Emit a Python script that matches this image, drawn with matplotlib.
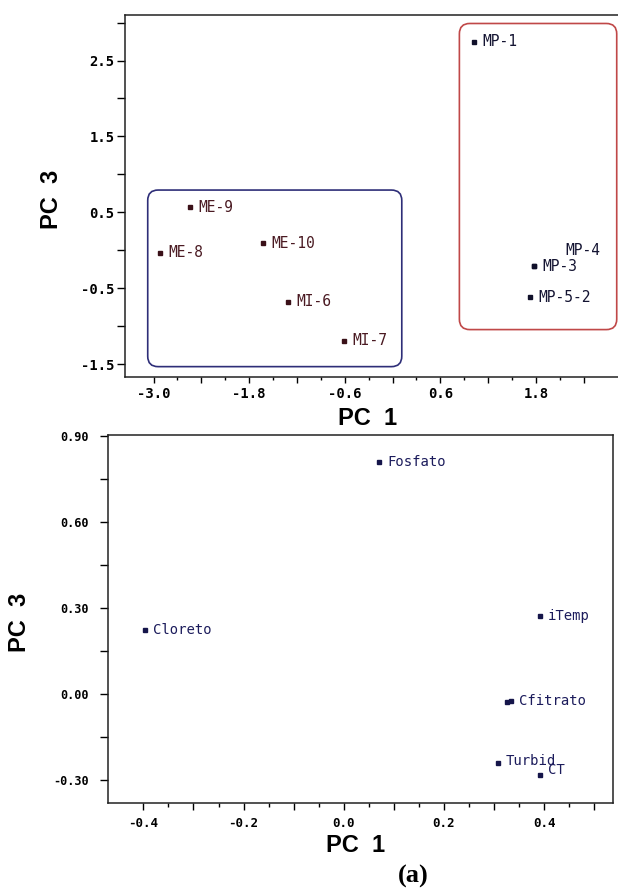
import numpy as np
import matplotlib
matplotlib.use("Agg")
import matplotlib.pyplot as plt
from matplotlib.patches import FancyBboxPatch

# scores (top panel)
sample_names = ["MP-1", "ME-9", "ME-8", "ME-10", "MI-6", "MI-7", "MP-3", "MP-4", "MP-5-2"]
sample_pc1 = [1.02, -2.54, -2.92, -1.62, -1.31, -0.61, 1.78, 1.78, 1.73]
sample_pc3 = [2.75, 0.57, -0.03, 0.09, -0.68, -1.19, -0.21, -0.21, -0.62]
sample_group = ["MP", "ME", "ME", "ME", "MI", "MI", "MP", "MP", "MP"]

# loadings (bottom panel)
var_names = ["Fosfato", "Cloreto", "iTemp", "Cfitrato", "", "Turbid", "CT"]
var_pc1 = [0.071, -0.397, 0.391, 0.334, 0.326, 0.307, 0.391]
var_pc3 = [0.809, 0.224, 0.273, -0.026, -0.028, -0.240, -0.283]

# ticks
top_xticks = [-3.0, -2.4, -1.8, -1.2, -0.6, 0.0, 0.6, 1.2, 1.8, 2.4]
top_xlabels = ["-3.0", "", "-1.8", "", "-0.6", "", "0.6", "", "1.8", ""]
top_yticks = [-1.5, -1.0, -0.5, 0.0, 0.5, 1.0, 1.5, 2.0, 2.5, 3.0]
top_ylabels = ["-1.5", "", "-0.5", "", "0.5", "", "1.5", "", "2.5", ""]
bot_xticks = [-0.4, -0.3, -0.2, -0.1, 0.0, 0.1, 0.2, 0.3, 0.4, 0.5]
bot_xlabels = ["-0.4", "", "-0.2", "", "0.0", "", "0.2", "", "0.4", ""]
bot_yticks = [-0.30, -0.15, 0.00, 0.15, 0.30, 0.45, 0.60, 0.75, 0.90]
bot_ylabels = ["-0.30", "", "0.00", "", "0.30", "", "0.60", "", "0.90"]

MONO = "DejaVu Sans Mono"
LABEL_FONT = dict(family="Liberation Sans", weight="bold", size=17)

fig = plt.figure(figsize=(6.18, 8.92), dpi=100)
fig.patch.set_facecolor("white")

# ---------- top panel: scores ----------
ax1 = fig.add_axes([0.2023, 0.5774, 0.7977, 0.4058])
ax1.set_xlim(-3.358, 2.83)
ax1.set_ylim(-1.668, 3.10)
ax1.spines["right"].set_visible(False)
for s in ["left", "bottom", "top"]:
    ax1.spines[s].set_linewidth(1.1)
    ax1.spines[s].set_color("#222222")

grp_text = {"MP": "#141432", "ME": "#4a1a22", "MI": "#4a1a22"}
grp_mark = {"MP": "#10102a", "ME": "#3a1018", "MI": "#3a1018"}
for i, name in enumerate(sample_names):
    g = sample_group[i]
    ax1.plot(sample_pc1[i], sample_pc3[i], "s", ms=3, color=grp_mark[g])
    if name == "MP-4":
        off = (22, 11)
    else:
        off = (6, 0)
    ax1.annotate(name, (sample_pc1[i], sample_pc3[i]), xytext=off,
                 textcoords="offset points", ha="left", va="center",
                 family=MONO, fontsize=10.5, color=grp_text[g])

# group boxes (data coords, aspect compensated for rounding)
asp = (1 / 75.8) / (1 / 79.6)
blue = FancyBboxPatch((-3.073, -1.532), 0.116 + 3.073, 0.794 + 1.532,
                      boxstyle="round,pad=0,rounding_size=0.13",
                      mutation_aspect=asp, fill=False, ec="#2e2e78", lw=1.2)
red = FancyBboxPatch((0.839, -1.044), 2.814 - 0.839, 2.988 + 1.044,
                     boxstyle="round,pad=0,rounding_size=0.13",
                     mutation_aspect=asp, fill=False, ec="#c04848", lw=1.2)
ax1.add_patch(blue)
ax1.add_patch(red)

ax1.set_xticks(top_xticks)
ax1.set_xticklabels(top_xlabels, family=MONO, fontsize=10, weight="bold")
ax1.set_xticks([t + 0.3 for t in top_xticks[:-1]], minor=True)
ax1.set_yticks(top_yticks)
ax1.set_yticklabels(top_ylabels, family=MONO, fontsize=10, weight="bold")
ax1.tick_params(axis="x", which="major", direction="out", length=4.3, width=1.0, pad=3)
ax1.tick_params(axis="x", which="minor", direction="out", length=2.2, width=1.0)
ax1.tick_params(axis="y", which="major", direction="out", length=6, width=1.0, pad=1.5)
ax1.set_xlabel("PC  1", **LABEL_FONT)
ax1.set_ylabel("PC  3", **LABEL_FONT)
ax1.xaxis.set_label_coords(0.492, -0.083)
ax1.yaxis.set_label_coords(-0.126, 0.49)

# ---------- bottom panel: loadings ----------
ax2 = fig.add_axes([0.1753, 0.1001, 0.8171, 0.4122])
ax2.set_xlim(-0.47, 0.538)
ax2.set_ylim(-0.379, 0.902)
for s in ax2.spines.values():
    s.set_linewidth(1.1)
    s.set_color("#222222")

offsets = {"CT": (6, 4), "Turbid": (6, 1)}
for i, name in enumerate(var_names):
    ax2.plot(var_pc1[i], var_pc3[i], "s", ms=3, color="#15154a")
    if name:
        ax2.annotate(name, (var_pc1[i], var_pc3[i]), xytext=offsets.get(name, (6, 0)),
                     textcoords="offset points", ha="left", va="center",
                     family=MONO, fontsize=10, color="#1c1c5c")

ax2.set_xticks(bot_xticks)
ax2.set_xticklabels(bot_xlabels, family=MONO, fontsize=9, weight="bold")
ax2.set_xticks([t + 0.05 for t in bot_xticks[:-1]], minor=True)
ax2.set_yticks(bot_yticks)
ax2.set_yticklabels(bot_ylabels, family=MONO, fontsize=8.5, weight="bold")
ax2.tick_params(axis="x", which="major", direction="out", length=5.3, width=1.0, pad=5)
ax2.tick_params(axis="x", which="minor", direction="out", length=2.9, width=1.0)
ax2.tick_params(axis="y", which="major", direction="out", length=6, width=1.0, pad=8)
ax2.set_xlabel("PC  1", **LABEL_FONT)
ax2.set_ylabel("PC  3", **LABEL_FONT)
ax2.xaxis.set_label_coords(0.49, -0.085)
ax2.yaxis.set_label_coords(-0.153, 0.49)

fig.text(413 / 618, 1 - 876 / 892, "(a)", family="Liberation Serif", weight="bold",
         fontsize=19, ha="center", va="center")

fig.savefig("out.png", dpi=100)
